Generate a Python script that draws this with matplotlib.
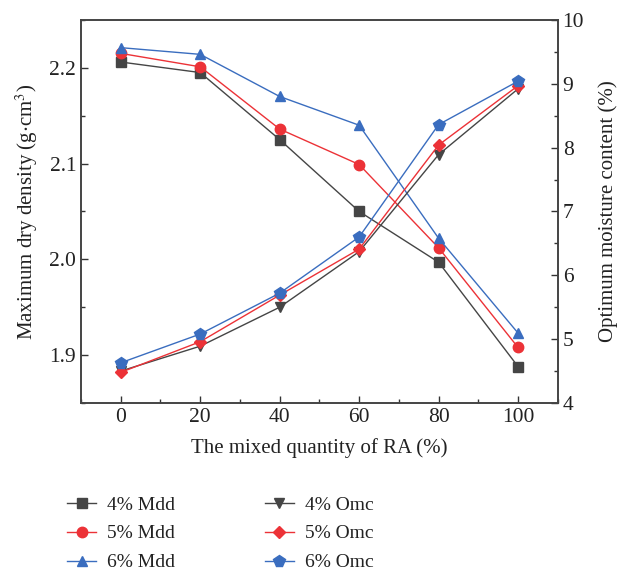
import numpy as np
import matplotlib.pyplot as plt
from matplotlib.ticker import MultipleLocator

plt.rcParams['font.family'] = ['Liberation Serif', 'DejaVu Serif']
plt.rcParams['mathtext.fontset'] = 'stix'

# mixed quantity of RA (%)
ra = [0, 20, 40, 60, 80, 100]

# maximum dry density (g/cm3), left axis
mdd_4 = [2.206, 2.195, 2.125, 2.050, 1.997, 1.888]
mdd_5 = [2.215, 2.201, 2.136, 2.099, 2.012, 1.908]
mdd_6 = [2.221, 2.214, 2.170, 2.140, 2.022, 1.923]

# optimum moisture content (%), right axis
omc_4 = [4.50, 4.89, 5.50, 6.37, 7.89, 8.92]
omc_5 = [4.48, 4.96, 5.69, 6.41, 8.04, 8.97]
omc_6 = [4.63, 5.08, 5.72, 6.60, 8.36, 9.04]

c_blk = '#454545'
c_red = '#ec3237'
c_blu = '#3a6dbf'

fig = plt.figure(figsize=(6.29, 5.71), dpi=100)
ax = fig.add_axes([0.1288, 0.2942, 0.758, 0.671])
ax2 = ax.twinx()

kw = dict(linewidth=1.0, markersize=7.5)
h1, = ax.plot(ra, mdd_4, color=c_blk, marker='s', label='4% Mdd', **kw)
h2, = ax.plot(ra, mdd_5, color=c_red, marker='o', label='5% Mdd', **kw)
h3, = ax.plot(ra, mdd_6, color=c_blu, marker='^', label='6% Mdd', **kw)
h4, = ax2.plot(ra, omc_4, color=c_blk, marker='v', label='4% Omc', **kw)
h5, = ax2.plot(ra, omc_5, color=c_red, marker='D', label='5% Omc', linewidth=1.0, markersize=6.5)
h6, = ax2.plot(ra, omc_6, color=c_blu, marker='p', label='6% Omc', linewidth=1.0, markersize=8.5)

ax.set_xlim(-10, 110)
ax.set_ylim(1.85, 2.25)
ax2.set_ylim(4, 10)
ax.set_xticks(ra)
ax.xaxis.set_minor_locator(MultipleLocator(10))
ax.yaxis.set_major_locator(MultipleLocator(0.1))
ax.yaxis.set_minor_locator(MultipleLocator(0.05))
ax2.yaxis.set_major_locator(MultipleLocator(1))
ax2.yaxis.set_minor_locator(MultipleLocator(0.5))

for a in (ax, ax2):
    a.tick_params(which='both', direction='in', labelsize=15.5, colors='#333333', width=1.0)
    a.tick_params(which='major', length=5)
    a.tick_params(which='minor', length=3)
    for s in a.spines.values():
        s.set_color('#444444')
        s.set_linewidth(1.2)
for lab in ax.get_xticklabels() + ax.get_yticklabels() + ax2.get_yticklabels():
    lab.set_color('#222222')

ax.set_xlabel('The mixed quantity of RA (%)', fontsize=15, color='#222222', labelpad=8)
ax.set_ylabel(r'Maximum dry density (g$\cdot$cm$^{3}$)', fontsize=15, color='#222222', labelpad=7)
ax2.set_ylabel('Optimum moisture content (%)', fontsize=15, color='#222222', labelpad=10)

leg = fig.legend(handles=[h1, h2, h3, h4, h5, h6], ncol=2, frameon=False, fontsize=14,
                 loc='upper left', bbox_to_anchor=(0.0787, 0.162), handlelength=1.5,
                 columnspacing=4.6, labelspacing=0.58, handletextpad=0.57)
for t in leg.get_texts():
    t.set_color('#222222')

fig.savefig('out.png', dpi=100)
